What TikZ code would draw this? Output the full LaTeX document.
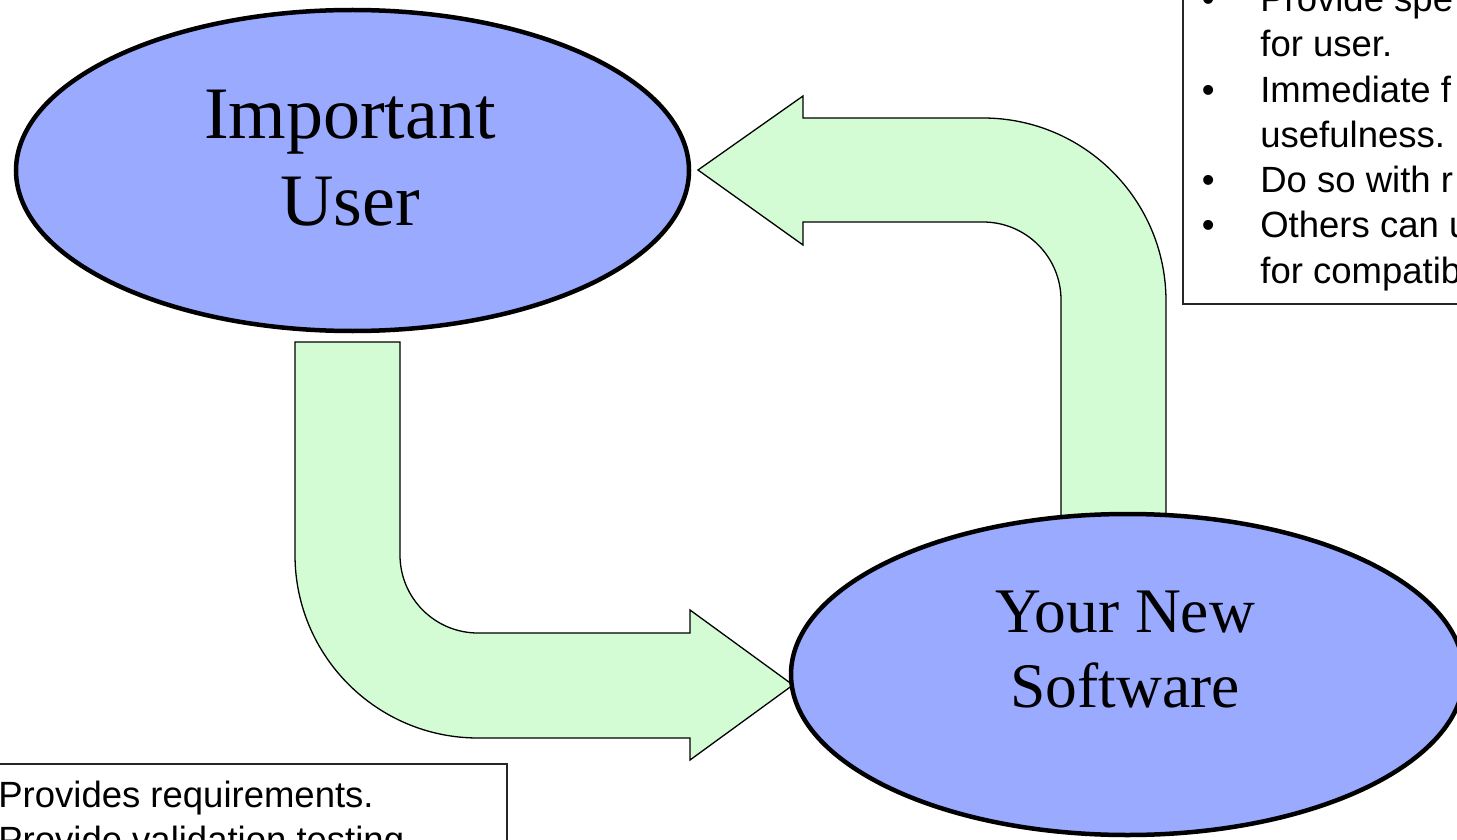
\documentclass[tikz,border=0pt]{standalone}
\usepackage{fontspec}
\setmainfont{Liberation Serif}
\setsansfont{Liberation Sans}
\usetikzlibrary{shapes.geometric}

\definecolor{ovalblue}{RGB}{153,170,255}
\definecolor{arrowgreen}{RGB}{212,252,212}

\tikzset{
	oval/.style={ellipse, draw, line width=4.5pt, fill=ovalblue, minimum width=673pt, minimum height=321pt, inner sep=0pt},
	ovaltext/.style={align=center, inner sep=0pt},
	bigarrow/.style={draw, line width=1.3pt, fill=arrowgreen, line join=miter},
	notebox/.style={draw=black!85, line width=1.5pt},
	notetext/.style={inner sep=0pt, anchor=base west, font=\sffamily\fontsize{36.5}{45.3}\selectfont}}
\tikzset{every picture/.style={line width=0.75pt}}

\begin{document}
\begin{tikzpicture}[x=1pt,y=1pt,yscale=-1,xscale=1]
	\useasboundingbox (0,0) rectangle (1457,840);
	
	%Shape: Block Arrow, user to software [id:arrowdown]
	\draw [bigarrow] (295,342) -- (400,342) -- (400,555) arc[start angle=180, end angle=90, radius=78] -- (690,633) -- (690,610) -- (793,685) -- (690,760) -- (690,738) -- (478,738) arc[start angle=90, end angle=180, radius=183] -- cycle ;
	%Shape: Block Arrow, software to user [id:arrowup]
	\draw [bigarrow] (1061,525) -- (1061,300) arc[start angle=0, end angle=-90, radius=78] -- (803,222) -- (803,245) -- (698,170) -- (803,96) -- (803,118) -- (983,118) arc[start angle=-90, end angle=0, radius=183] -- (1166,525) -- cycle ;
	
	%Shape: Ellipse [id:user]
	\node (user) [oval] at (352.5,170.5) {};
	%Shape: Ellipse [id:soft]
	\node (soft) [oval] at (1127.5,674.5) {};
	
	% Text Node
	\node (usertxt) [ovaltext, font=\fontsize{74}{87}\selectfont] at (350,158) {Important\\User};
	% Text Node
	\node (softtxt) [ovaltext, font=\fontsize{63.5}{75}\selectfont] at (1125,650) {Your New\\Software};
	
	%Shape: Rectangle [id:goalbox]
	\draw [notebox] (1183,-20) rectangle (1480,304) ;
	% Text Node
	\node (goals) [notetext] at (1201.6,11.5) {\begin{tabular}[t]{@{}l@{}l@{}}
		\makebox[58.4pt][l]{\textbullet} & Provide spe\\
		 & for user.\\
		\makebox[58.4pt][l]{\textbullet} & Immediate f\\
		 & usefulness.\\
		\makebox[58.4pt][l]{\textbullet} & Do so with r\\
		\makebox[58.4pt][l]{\textbullet} & Others can u\\
		 & for compatib
	\end{tabular}};
	
	%Shape: Rectangle [id:rolebox]
	\draw [notebox] (-20,764) rectangle (507,900) ;
	% Text Node
	\node (roles) [notetext] at (-2,807) {\begin{tabular}[t]{@{}l@{}}
		Provides requirements.\\
		Provide validation testing
	\end{tabular}};
	
\end{tikzpicture}
\end{document}
